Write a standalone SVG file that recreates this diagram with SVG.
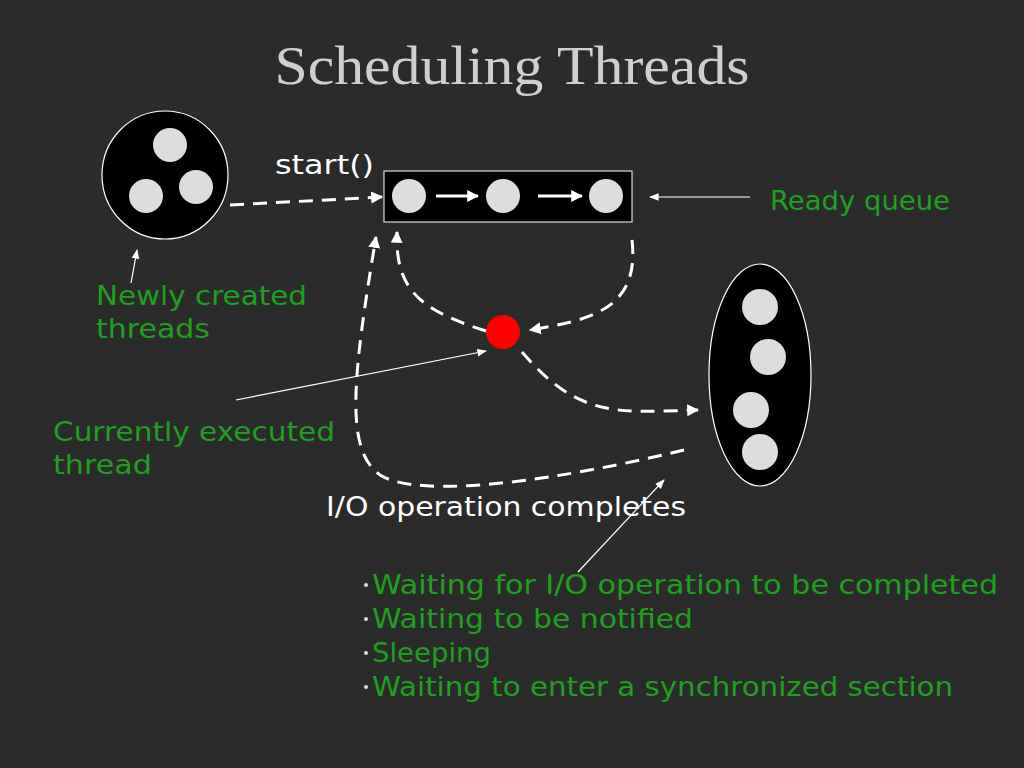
<svg xmlns="http://www.w3.org/2000/svg" width="1024" height="768" viewBox="0 0 1024 768">
<defs>
<marker id="ah" viewBox="0 0 10 10" refX="9" refY="5" markerWidth="4" markerHeight="4" orient="auto"><path d="M0,0L10,5L0,10z" fill="#fff"/></marker>
<marker id="ahs" viewBox="0 0 10 10" refX="9" refY="5" markerWidth="8" markerHeight="8" orient="auto"><path d="M0,1L10,5L0,9z" fill="#fff"/></marker>
<style>
.g{fill:#1f9e1f;font-family:"DejaVu Sans",sans-serif;font-size:27px}
.w{fill:#fff;font-family:"DejaVu Sans",sans-serif;font-size:26px}
.d{fill:none;stroke:#fff;stroke-width:3;stroke-dasharray:14 9;marker-end:url(#ah)}
.t{fill:none;stroke:#fff;stroke-width:1.2;marker-end:url(#ahs)}
.c{fill:#ddd}
.b{fill:#ddd}
</style>
</defs>
<rect width="1024" height="768" fill="#2b2b2b"/>
<text x="512" y="84" text-anchor="middle" font-family="Liberation Serif,serif" font-size="54" fill="#cfcfcf" textLength="475" lengthAdjust="spacingAndGlyphs">Scheduling Threads</text>
<g id="new"><ellipse cx="165" cy="175" rx="63" ry="64" fill="#000" stroke="#fff" stroke-width="1.2"/><circle class="c" cx="170" cy="145" r="17"/><circle class="c" cx="146" cy="196" r="17"/><circle class="c" cx="196" cy="187" r="17"/></g>
<g id="queue"><rect x="384" y="171" width="248" height="51" fill="#000" stroke="#ddd" stroke-width="1.2"/><circle class="c" cx="409" cy="196" r="17"/><circle class="c" cx="503" cy="196" r="17"/><circle class="c" cx="606" cy="196" r="17"/>
<line x1="436" y1="196" x2="478" y2="196" stroke="#fff" stroke-width="3" marker-end="url(#ah)"/><line x1="538" y1="196" x2="582" y2="196" stroke="#fff" stroke-width="3" marker-end="url(#ah)"/></g>
<g id="running"><circle cx="503" cy="332" r="17" fill="#f00"/></g>
<g id="waiting"><ellipse cx="760" cy="375" rx="51" ry="111" fill="#000" stroke="#fff" stroke-width="1.2"/><circle class="c" cx="760" cy="307" r="18"/><circle class="c" cx="768" cy="357" r="18"/><circle class="c" cx="751" cy="410" r="18"/><circle class="c" cx="760" cy="452" r="18"/></g>
<g id="connectors">
<path class="d" d="M230,205L382,197"/>
<path class="d" d="M486,331C420,310 395,290 397,232"/>
<path class="d" d="M632,240C640,310 590,320 530,330"/>
<path class="d" d="M522,352C580,420 620,412 698,410"/>
<path class="d" d="M684,450C560,480 420,500 380,475C345,450 352,380 376,237"/>
<path class="t" d="M750,197L650,197"/>
<path class="t" d="M131,283L137,250"/>
<path class="t" d="M236,400L486,351"/>
<path class="t" d="M578,572L664,480"/>
</g>
<g id="labels">
<text class="w" x="275" y="174" textLength="99" lengthAdjust="spacingAndGlyphs">start()</text>
<text class="g" x="770" y="210" textLength="180" lengthAdjust="spacingAndGlyphs">Ready queue</text>
<text class="g" x="96" y="305" textLength="211" lengthAdjust="spacingAndGlyphs">Newly created</text>
<text class="g" x="96" y="338" textLength="114" lengthAdjust="spacingAndGlyphs">threads</text>
<text class="g" x="53" y="441" textLength="282" lengthAdjust="spacingAndGlyphs">Currently executed</text>
<text class="g" x="53" y="474" textLength="99" lengthAdjust="spacingAndGlyphs">thread</text>
<text class="w" x="326" y="516" textLength="360" lengthAdjust="spacingAndGlyphs">I/O operation completes</text>
<circle class="b" cx="366" cy="585" r="2"/><circle class="b" cx="366" cy="619" r="2"/><circle class="b" cx="366" cy="653" r="2"/><circle class="b" cx="366" cy="687" r="2"/>
<text class="g" x="372" y="594" textLength="626" lengthAdjust="spacingAndGlyphs">Waiting for I/O operation to be completed</text>
<text class="g" x="372" y="628" textLength="321" lengthAdjust="spacingAndGlyphs">Waiting to be notified</text>
<text class="g" x="372" y="662" textLength="119" lengthAdjust="spacingAndGlyphs">Sleeping</text>
<text class="g" x="372" y="696" textLength="581" lengthAdjust="spacingAndGlyphs">Waiting to enter a synchronized section</text>
</g>
</svg>
